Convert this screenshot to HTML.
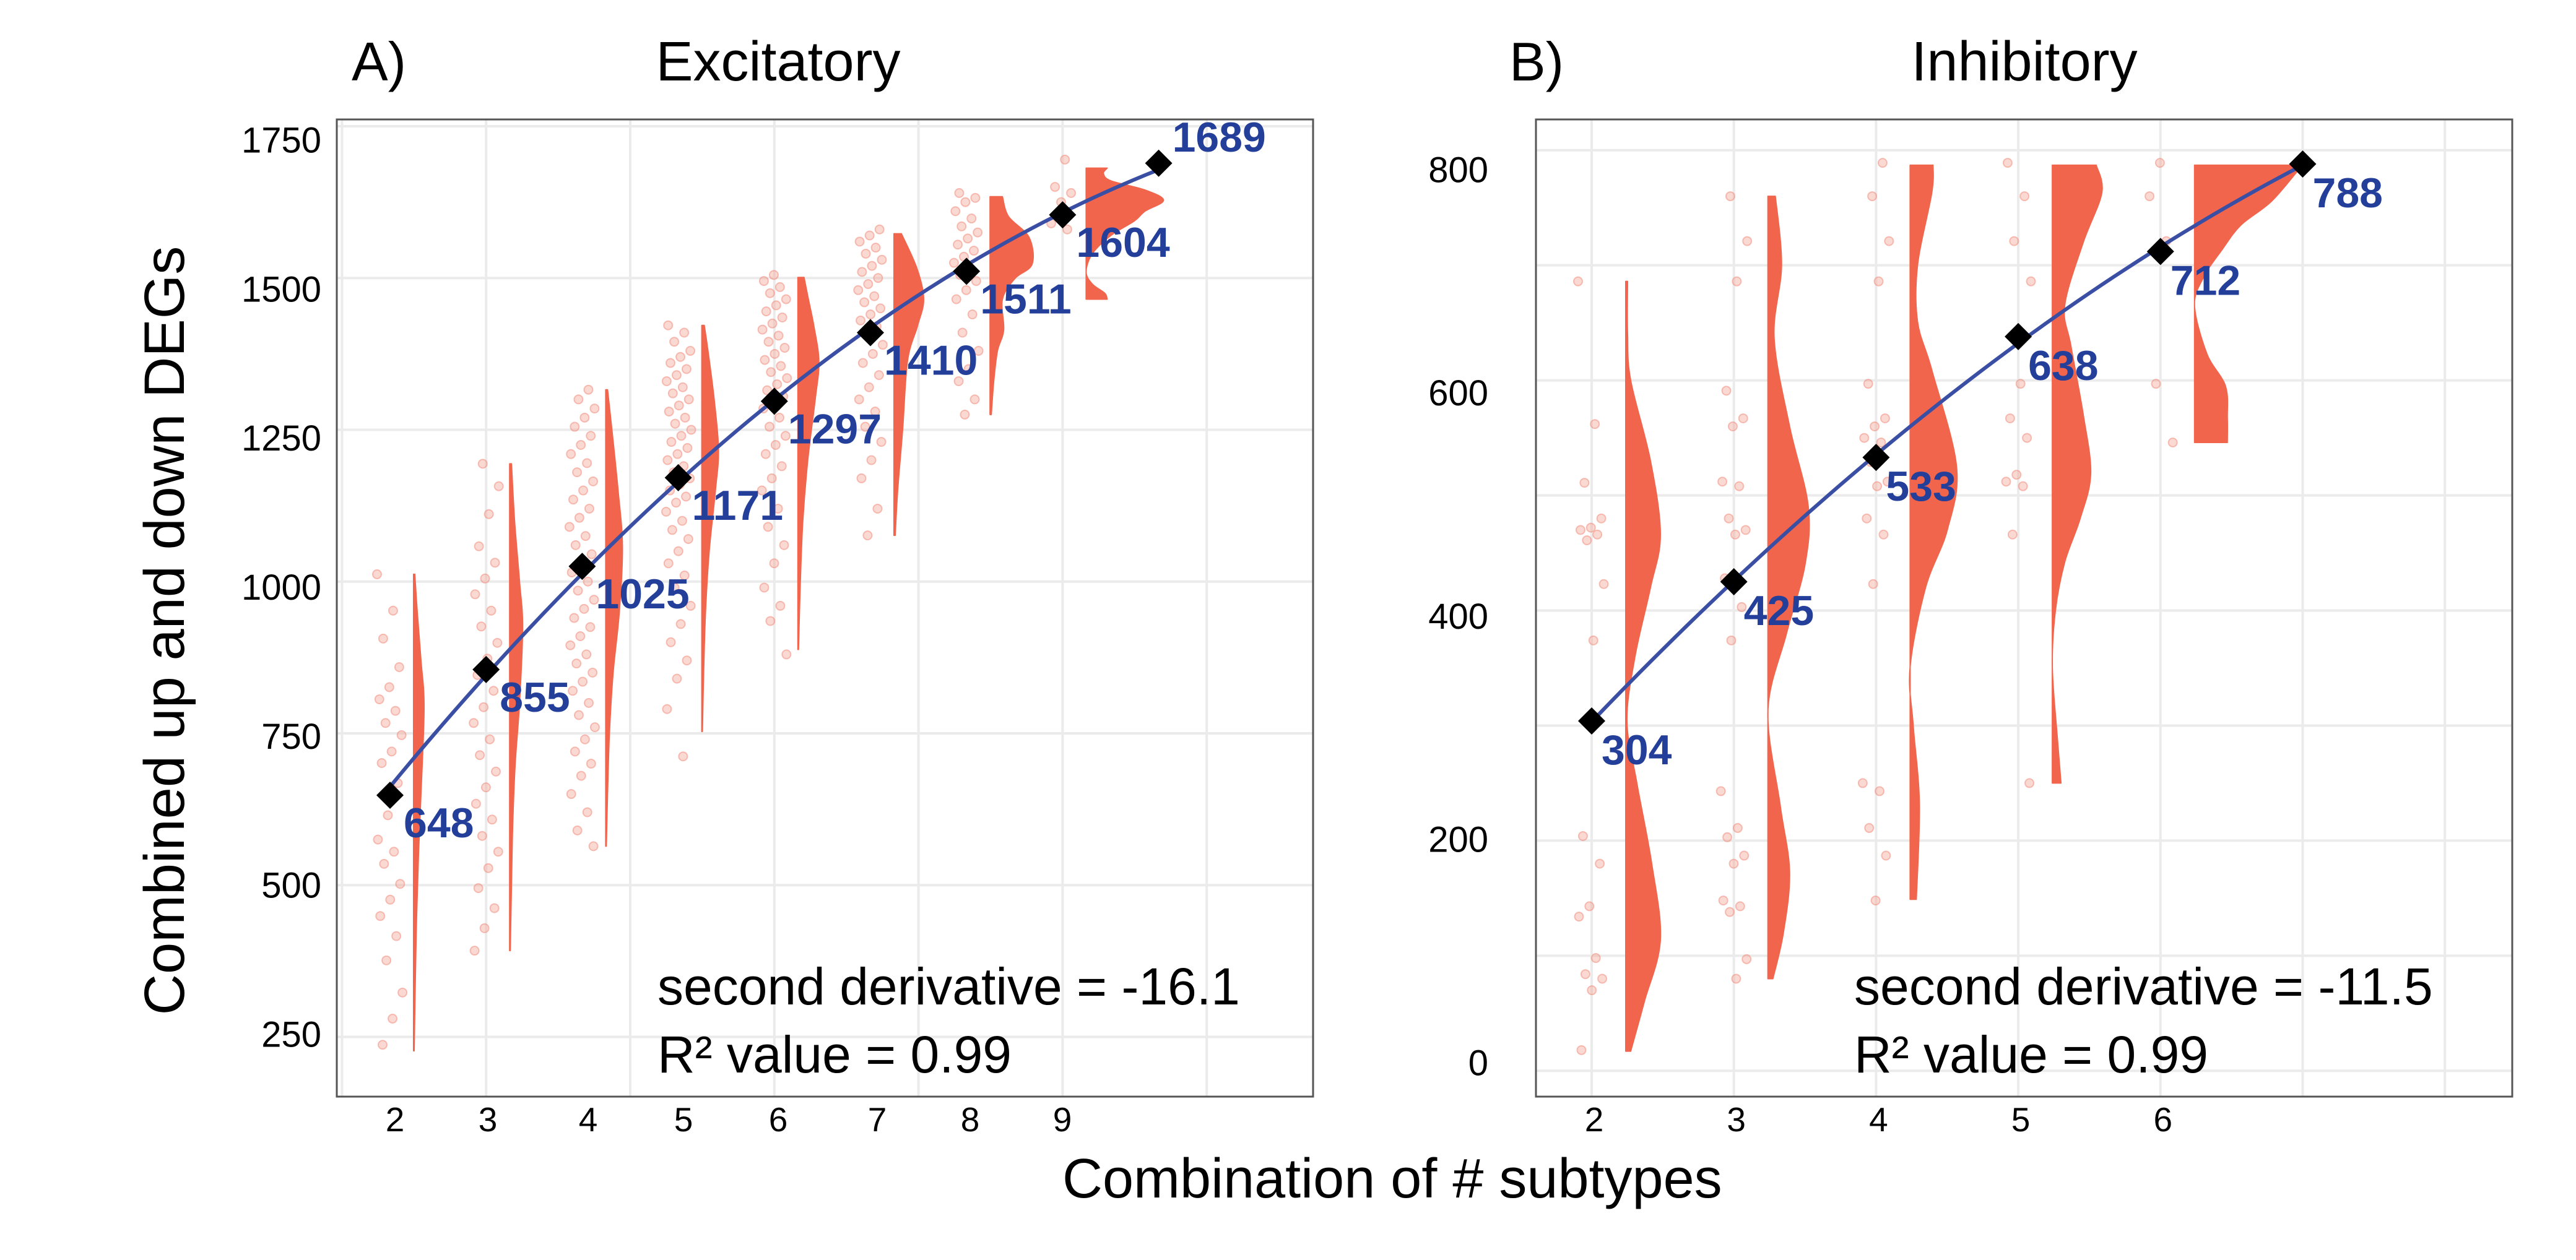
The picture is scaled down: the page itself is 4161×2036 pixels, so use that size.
<!DOCTYPE html>
<html><head><meta charset="utf-8"><style>
html,body{margin:0;padding:0;background:#fff;}
svg{display:block;font-family:"Liberation Sans",Arial,sans-serif;}
</style></head><body>
<svg id="fig" width="4161" height="2036" viewBox="0 0 4161 2036" xmlns="http://www.w3.org/2000/svg">
<rect width="4161" height="2036" fill="#fff"/>
<g id="panelA"></g>
<g id="panelB"></g>
<text transform="translate(297,1019) rotate(-90)" text-anchor="middle" font-size="92">Combined up and down DEGs</text>
<text x="1716" y="1935" font-size="90">Combination of # subtypes</text>
</svg>
<script>
// ---------- Panel A data ----------
const aX = [2,3,4,5,6,7,8,9,10];
const aMean = [648,855,1025,1171,1297,1410,1511,1604,1689];
const aXTicks = ["2","3","4","5","6","7","8","9"];
const aYTicks = [1750,1500,1250,1000,750,500,250];
const aLevels = [
 [227,350,450,550,650,793,870,950,1012],
 [392,500,600,700,800,925,1000,1100,1194],
 [564,650,750,850,950,1058,1150,1250,1316],
 [753,850,950,1050,1150,1217,1300,1380,1422],
 [888,1000,1100,1200,1300,1362,1420,1470,1501],
 [1076,1150,1250,1364,1421,1465,1516,1573],
 [1275,1330,1380,1414,1465,1499,1523,1567,1601,1634],
 [1465,1475,1490,1510,1540,1570,1594,1610,1628,1645,1660,1672,1681]
];
const aDens = [
 [1,3,5,8,12,17,12,6,2],
 [1,3,5,9,16,21,16,8,3],
 [1,3,6,12,22,27,20,10,3],
 [1,3,6,12,22,27,20,10,4],
 [1,4,8,16,28,34,26,16,10],
 [2,6,14,22,38,48,37,12],
 [2,6,12,22,20,40,68,63,30,20],
 [34,30,10,0,10,40,78,95,125,95,40,28,34]
];
const aPts = [
 [1012,952,906,859,826,806,787,767,747,720,701,668,615,575,555,535,502,476,449,416,376,323,280,237],
 [1194,1157,1111,1058,1031,1005,979,952,926,899,873,846,820,793,767,740,714,687,661,634,608,581,555,528,495,462,429,392],
 [1316,1300,1285,1270,1255,1240,1225,1210,1195,1180,1165,1150,1135,1120,1105,1090,1075,1060,1045,1030,1015,1000,985,970,955,940,925,910,895,880,865,850,835,820,800,780,760,740,720,700,680,650,620,590,564],
 [1422,1410,1395,1380,1370,1360,1350,1340,1330,1320,1310,1300,1290,1280,1270,1260,1250,1240,1230,1220,1210,1200,1190,1180,1170,1160,1150,1140,1130,1115,1100,1085,1070,1050,1030,1010,990,960,930,900,870,840,790,712],
 [1505,1495,1485,1475,1465,1455,1445,1435,1425,1415,1405,1395,1385,1375,1365,1355,1345,1335,1325,1315,1305,1295,1285,1270,1255,1240,1225,1210,1190,1170,1150,1120,1090,1060,1030,990,960,935,880],
 [1580,1570,1560,1550,1540,1530,1520,1510,1500,1490,1480,1470,1460,1450,1440,1430,1420,1405,1390,1375,1360,1340,1320,1300,1280,1255,1230,1200,1170,1120,1076],
 [1640,1632,1625,1610,1598,1585,1575,1565,1555,1545,1535,1525,1515,1505,1495,1480,1465,1440,1410,1380,1350,1330,1300,1275],
 [1695,1650,1640,1625,1590,1580]
];
// ---------- Panel B data ----------
const bX = [2,3,4,5,6,7];
const bMean = [304,425,533,638,712,788];
const bXTicks = ["2","3","4","5","6"];
const bYTicks = [800,600,400,200,0];
const bLevels = [
 [17,60,114,180,250,304,360,420,466,530,600,640,686],
 [80,120,173,230,313,380,440,491,560,637,700,760],
 [149,232,300,351,420,470,525,609,651,700,763,787],
 [250,290,351,400,442,480,519,570,630,665,720,763,787],
 [546,567,595,623,665,690,714,735,756,787]
];
const bDens = [
 [8,30,56,42,18,2,15,40,56,40,8,3,3],
 [8,25,35,20,0,30,60,65,35,10,22,12],
 [10,15,5,0,25,60,75,35,12,12,35,37],
 [14,8,0,5,20,45,62,50,30,20,50,80,71],
 [53,53,50,20,0,15,45,75,125,174]
];
const bPts = [
 [686,562,511,480,472,470,466,461,423,374,204,180,143,134,98,84,80,70,18],
 [760,721,686,591,567,560,512,508,480,470,466,428,403,374,243,211,203,187,180,148,143,138,97,80],
 [789,760,721,686,597,567,560,550,546,529,512,508,480,466,423,250,243,211,187,148],
 [789,760,721,686,597,567,550,518,512,508,466,250],
 [789,760,721,597,546]
];

const NS = "http://www.w3.org/2000/svg";
function mk(parent, tag, attrs, txt){
  const e = document.createElementNS(NS, tag);
  for (const k in attrs) e.setAttribute(k, attrs[k]);
  if (txt !== undefined) e.textContent = txt;
  parent.appendChild(e);
  return e;
}
function quadFit(xs, ys){
  let n=xs.length,s=[0,0,0,0,0],t=[0,0,0];
  for(let i=0;i<n;i++){const x=xs[i],y=ys[i];s[0]+=1;s[1]+=x;s[2]+=x*x;s[3]+=x*x*x;s[4]+=x*x*x*x;t[0]+=y;t[1]+=x*y;t[2]+=x*x*y;}
  const M=[[s[0],s[1],s[2],t[0]],[s[1],s[2],s[3],t[1]],[s[2],s[3],s[4],t[2]]];
  for(let i=0;i<3;i++){for(let j=i+1;j<3;j++){const f=M[j][i]/M[i][i];for(let k=i;k<4;k++)M[j][k]-=f*M[i][k];}}
  const c=[0,0,0];
  for(let i=2;i>=0;i--){let v=M[i][3];for(let k=i+1;k<3;k++)v-=M[i][k]*c[k];c[i]=v/M[i][i];}
  return x=>c[0]+c[1]*x+c[2]*x*x;
}
function smoothPath(P){
  let d='';
  for(let i=0;i<P.length-1;i++){
    const p0=P[Math.max(0,i-1)],p1=P[i],p2=P[i+1],p3=P[Math.min(P.length-1,i+2)];
    const c1=[p1[0]+(p2[0]-p0[0])/6,p1[1]+(p2[1]-p0[1])/6];
    const c2=[p2[0]-(p3[0]-p1[0])/6,p2[1]-(p3[1]-p1[1])/6];
    d+=` C${c1[0]},${c1[1]} ${c2[0]},${c2[1]} ${p2[0]},${p2[1]}`;
  }
  return d;
}

function drawPanel(cfg){
  const g = document.getElementById(cfg.id);
  const {sx, sy, labY} = cfg;
  cfg.hGrid.forEach(v=>{
    const l = mk(g,'line',{x1:cfg.L,x2:cfg.R,y1:sy(v),y2:sy(v),stroke:'#ebebeb','stroke-width':4});
    
    
  });
  cfg.vGrid.forEach(k=>{
    const l = mk(g,'line',{x1:sx(k),x2:sx(k),y1:cfg.T,y2:cfg.B,stroke:'#ebebeb','stroke-width':4});
    
    
  });
  cfg.levels.forEach((lev,i)=>{
    const base = sx(cfg.xs[i]) + cfg.vOff;
    const P = lev.map((v,j)=>[base+cfg.dens[i][j], sy(v)]);
    let d = 'M'+base+','+sy(lev[0])+' L'+P[0][0]+','+P[0][1]+smoothPath(P)+' L'+base+','+sy(lev[lev.length-1])+' Z';
    const p = mk(g,'path',{d:d,fill:'#f2654d','stroke':'#f2654d','stroke-width':2,'stroke-linejoin':'round'});
    
    
  });
  cfg.pts.forEach((arr,i)=>{
    arr.forEach((v,j)=>{
      const fr = ((j*0.6180339+i*0.37)%1);
      const jit = (fr-0.5)*cfg.jit;
      const c = mk(g,'circle',{cx:sx(cfg.xs[i])-cfg.jOff+jit,cy:sy(v),r:7,fill:'#f4a090','fill-opacity':0.4,stroke:'#ef7a68','stroke-opacity':0.45,'stroke-width':2});
      
      
    });
  });
  const f = quadFit(cfg.xs, cfg.means);
  let d='';
  const x0=cfg.xs[0], x1=cfg.xs[cfg.xs.length-1];
  for(let i=0;i<=60;i++){const x=x0+(x1-x0)*i/60;d+=(i?' L':'M')+sx(x)+','+sy(f(x));}
  const fl = mk(g,'path',{d:d,fill:'none',stroke:'#3a4fa3','stroke-width':6});
  
  
  cfg.means.forEach((v,i)=>{
    const x=sx(cfg.xs[i]), y=sy(v), h=22;
    const dm = mk(g,'polygon',{points:`${x},${y-h} ${x+h},${y} ${x},${y+h} ${x-h},${y}`,fill:'#000'});
    
    
    const last = i===cfg.means.length-1;
    const t = mk(g,'text',{x:x+cfg.lblDx,y:last?y+cfg.lastDy:y+cfg.lblDy,'font-size':68,'font-weight':'bold',fill:'#233f99'},String(v));
    
    
  });
  const bx = mk(g,'rect',{x:cfg.L,y:cfg.T,width:cfg.R-cfg.L,height:cfg.B-cfg.T,fill:'none',stroke:'#555','stroke-width':3});
  
  
  cfg.yTicks.forEach(v=>{
    const t = mk(g,'text',{x:cfg.yLabX,y:labY(v),'text-anchor':'end','dominant-baseline':'central','font-size':58},String(v));
    
    
  });
  cfg.xTicks.forEach((s,i)=>{
    const t = mk(g,'text',{x:cfg.xLabPos(i),y:1809,'text-anchor':'middle','dominant-baseline':'central','font-size':55},s);
    
    
  });
  const tl = mk(g,'text',{x:cfg.tagX,y:130,'font-size':88},cfg.tag);
  
  
  const tt = mk(g,'text',{x:cfg.titleX,y:130,'font-size':90,'text-anchor':'middle'},cfg.title);
  
  
  const a1 = mk(g,'text',{x:cfg.annX,y:1623,'font-size':84},cfg.ann1);
  
  
  const a2 = mk(g,'text',{x:cfg.annX,y:1733,'font-size':84},'R² value = 0.99');
  
  
}

const aTickPx = [638,788,950,1104,1257,1417,1567,1716];
drawPanel({
  id:'panelA', L:544, R:2121, T:193, B:1772,
  sx:k=>630+(k-2)*155.2, sy:v=>1285-(v-648)*0.981, labY:v=>1672-(v-250)*0.9633,
  hGrid:[1750,1500,1250,1000,750,500,250], vGrid:[1.5,3,4.5,6,7.5,9,10.5],
  xs:aX, means:aMean, levels:aLevels, dens:aDens, pts:aPts,
  vOff:38, jOff:0, jit:42, lblDx:22, lblDy:68, lastDy:-19,
  yTicks:aYTicks, yLabX:519, xTicks:aXTicks, xLabPos:i=>aTickPx[i],
  tag:'A)', tagX:568, title:'Excitatory', titleX:1257,
  annX:1062, ann1:'second derivative = -16.1'
});
drawPanel({
  id:'panelB', L:2481, R:4058, T:193, B:1772,
  sx:k=>2571+(k-2)*229.7, sy:v=>1165-(v-304)*1.8595, labY:v=>1718-v*1.8038,
  hGrid:[0,100,200,300,400,500,600,700,800], vGrid:[2,3,4,5,6,7,8],
  xs:bX, means:bMean, levels:bLevels, dens:bDens, pts:bPts,
  vOff:55, jOff:0, jit:44, lblDx:16, lblDy:70, lastDy:70,
  yTicks:bYTicks, yLabX:2404, xTicks:bXTicks, xLabPos:i=>2571+i*229.7+4,
  tag:'B)', tagX:2438, title:'Inhibitory', titleX:3270,
  annX:2995, ann1:'second derivative = -11.5'
});
</script>
</body></html>
